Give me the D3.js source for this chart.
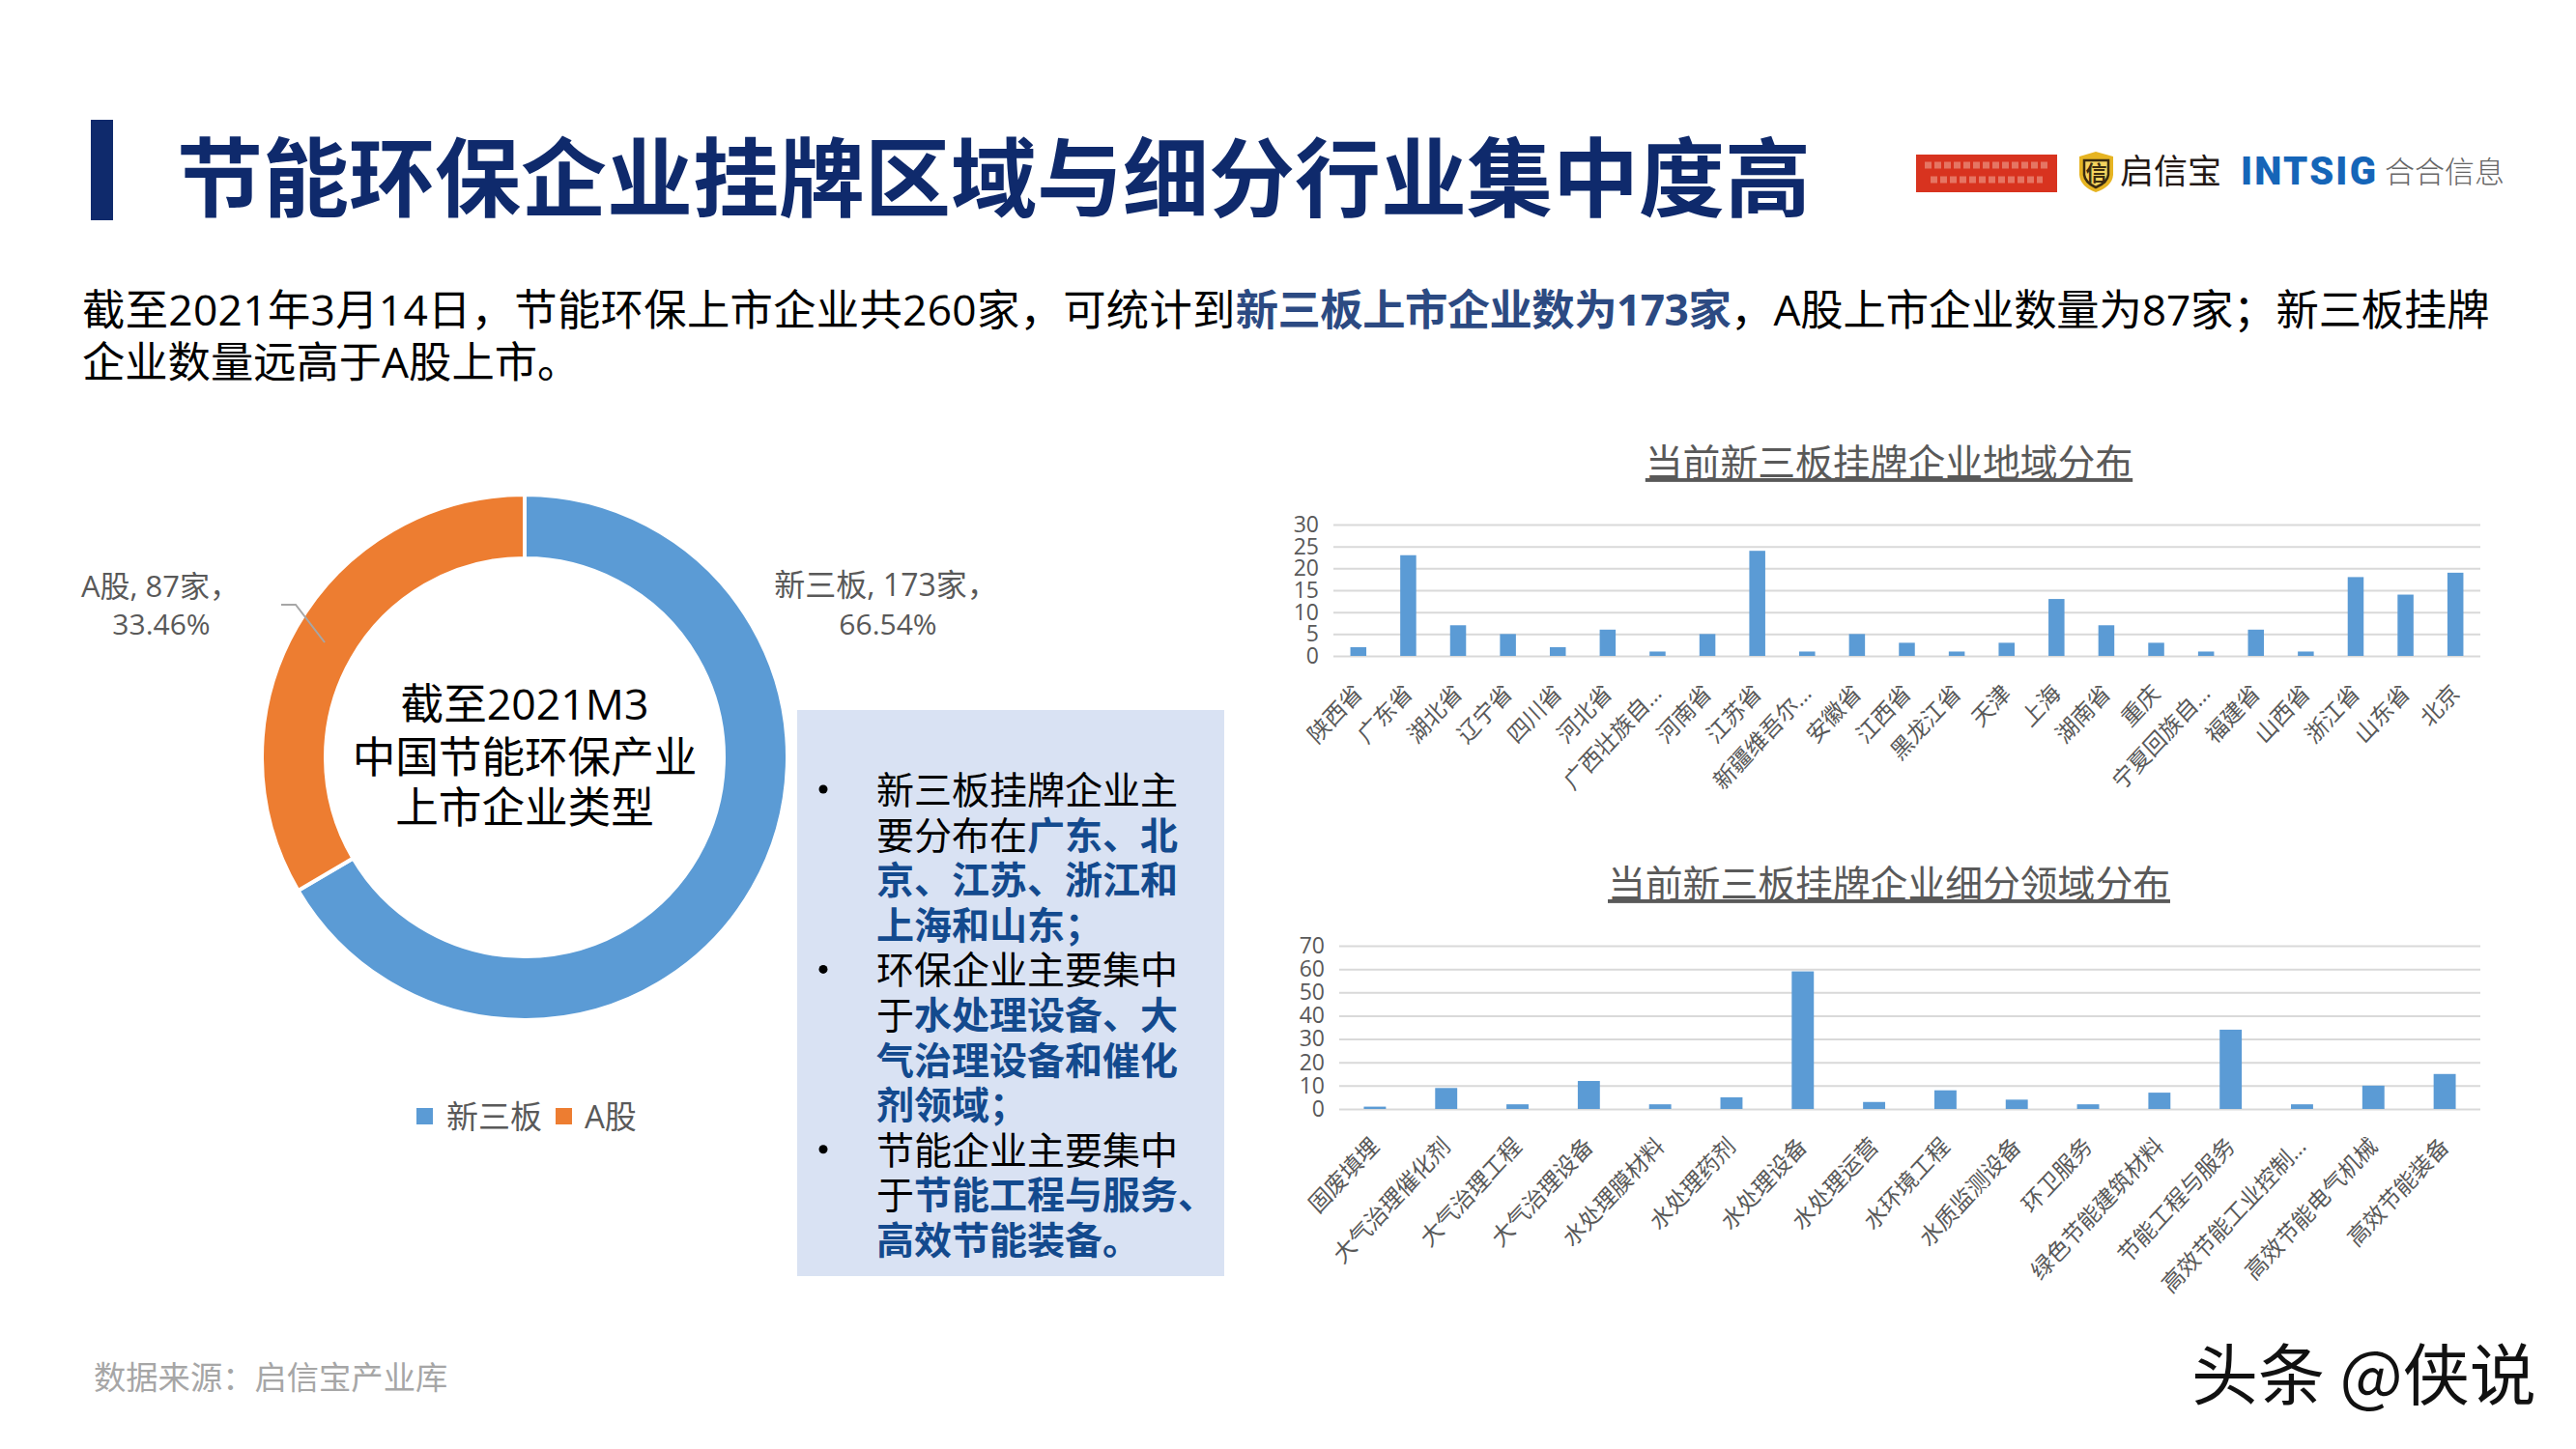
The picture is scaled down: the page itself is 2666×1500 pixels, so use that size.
<!DOCTYPE html>
<html>
<head>
<meta charset="utf-8">
<script src="https://cdn.jsdelivr.net/npm/d3@7"></script>
<style>
	html, body { margin: 0; padding: 0; background: #fff; }
	svg { display: block; }
	text { font-family: "Open Sans", "Noto Sans CJK SC", sans-serif; }
	.axis path { display: none; }
	.cjk { font-family: "Noto Sans CJK SC", sans-serif; }
</style>
</head>
<body>
<script>
// region chart
var regionNames = ['陕西省', '广东省', '湖北省', '辽宁省', '四川省', '河北省', '广西壮族自…', '河南省', '江苏省', '新疆维吾尔…', '安徽省', '江西省', '黑龙江省', '天津', '上海', '湖南省', '重庆', '宁夏回族自…', '福建省', '山西省', '浙江省', '山东省', '北京'];
var regionValues = [2, 23, 7, 5, 2, 6, 1, 5, 24, 1, 5, 3, 1, 3, 13, 7, 3, 1, 6, 1, 18, 14, 19];
var regionTicks = [0, 5, 10, 15, 20, 25, 30];

// segment chart
var fieldNames = ['固废填埋', '大气治理催化剂', '大气治理工程', '大气治理设备', '水处理膜材料', '水处理药剂', '水处理设备', '水处理运营', '水环境工程', '水质监测设备', '环卫服务', '绿色节能建筑材料', '节能工程与服务', '高效节能工业控制…', '高效节能电气机械', '高效节能装备'];
var fieldValues = [1, 9, 2, 12, 2, 5, 59, 3, 8, 4, 2, 7, 34, 2, 10, 15];
var fieldTicks = [0, 10, 20, 30, 40, 50, 60, 70];

// donut
var boardNames = ['新三板', 'A股'];
var boardValues = [173, 87];
var boardColors = ['#5B9BD5', '#ED7D31'];
var centerLines = ['截至2021M3', '中国节能环保产业', '上市企业类型'];

// text block, [text, bold] runs per line
var introLines = [
	[['截至2021年3月14日，节能环保上市企业共260家，可统计到', 0], ['新三板上市企业数为173家', 1], ['，A股上市企业数量为87家；新三板挂牌', 0]],
	[['企业数量远高于A股上市。', 0]]
];
var noteLines = [
	[['新三板挂牌企业主', 0]],
	[['要分布在', 0], ['广东、北', 1]],
	[['京、江苏、浙江和', 1]],
	[['上海和山东；', 1]],
	[['环保企业主要集中', 0]],
	[['于', 0], ['水处理设备、大', 1]],
	[['气治理设备和催化', 1]],
	[['剂领域；', 1]],
	[['节能企业主要集中', 0]],
	[['于', 0], ['节能工程与服务、', 1]],
	[['高效节能装备。', 1]]
];
var noteBullets = [0, 4, 8];

var width = 2666,
	height = 1500;

var svg = d3.select('body').append('svg')
	.attr('width', width)
	.attr('height', height);

function addRuns(sel, runs, boldColor) {
	runs.forEach(function(r) {
		sel.append('tspan')
			.attr('font-weight', r[1] ? 700 : 400)
			.attr('fill', r[1] ? boldColor : '#000')
			.text(r[0]);
	});
}

// header
svg.append('rect').attr('x', 94).attr('y', 124).attr('width', 23).attr('height', 104).attr('fill', '#0F2A6C');
svg.append('text').attr('class', 'cjk')
	.attr('x', 183).attr('y', 217)
	.attr('font-size', 89).attr('font-weight', 700).attr('fill', '#0F2A6C')
	.text('节能环保企业挂牌区域与细分行业集中度高');

// logos
svg.append('rect').attr('x', 1983).attr('y', 160).attr('width', 146).attr('height', 39).attr('fill', '#D8331F');
[168, 183].forEach(function(y, i) {
	svg.append('line')
		.attr('x1', 1992 + i * 6).attr('x2', 2120 - i * 6).attr('y1', y + 3).attr('y2', y + 3)
		.attr('stroke', '#F3B7A6').attr('stroke-width', 7).attr('stroke-dasharray', '7 3').attr('opacity', 0.5);
});

var shield = svg.append('g').attr('transform', 'translate(2152,157)');
shield.append('path').attr('d', 'M0 5 L17 0 L35 5 L35 24 Q34 36 17 42 Q1 36 0 24 Z').attr('fill', '#E6B422');
shield.append('path').attr('d', 'M5 9 L30 9 L30 24 Q29 32 17 37 Q6 32 5 24 Z').attr('fill', '#F4D35E').attr('stroke', '#3B2C10').attr('stroke-width', 2.5);
shield.append('text').attr('class', 'cjk').attr('x', 17.5).attr('y', 30).attr('text-anchor', 'middle')
	.attr('font-size', 22).attr('font-weight', 700).attr('fill', '#3B2C10').text('信');

svg.append('text').attr('class', 'cjk').attr('x', 2194).attr('y', 190)
	.attr('font-size', 35).attr('font-weight', 400).attr('fill', '#231815').text('启信宝');
svg.append('text').attr('x', 2319).attr('y', 191)
	.style('font-family', 'Roboto, sans-serif')
	.attr('font-size', 40).attr('font-weight', 900).attr('letter-spacing', 2.2).attr('fill', '#1565B8').text('INTSIG');
svg.append('text').attr('class', 'cjk').attr('x', 2468).attr('y', 189)
	.attr('font-size', 31).attr('font-weight', 300).attr('fill', '#666').text('合合信息');

// intro paragraph
var intro = svg.append('g').attr('class', 'intro');
introLines.forEach(function(runs, i) {
	var t = intro.append('text').attr('x', 85).attr('y', 337 + i * 54).attr('font-size', 44.3);
	addRuns(t, runs, '#2C4A82');
});
// nudge the three runs of line one so they start where the source does
var introSpacing = [0.33, -0.5, -0.12];
intro.select('text').selectAll('tspan').attr('letter-spacing', function(d, i) { return introSpacing[i]; });

// donut chart
var radius = 272;
var pie = d3.pie().sort(null).value(function(d) { return d; });
var arc = d3.arc().innerRadius(206).outerRadius(radius);
var donut = svg.append('g').attr('transform', 'translate(543,784)');

donut.selectAll('.slice')
	.data(pie(boardValues))
	.enter().append('path')
	.attr('class', 'slice')
	.attr('d', arc)
	.attr('fill', function(d, i) { return boardColors[i]; })
	.attr('stroke', '#fff')
	.attr('stroke-width', 4);

centerLines.forEach(function(line, i) {
	donut.append('text')
		.attr('y', [-39, 16, 68][i])
		.attr('text-anchor', 'middle')
		.attr('font-size', 44.6)
		.attr('fill', '#000')
		.text(line);
});

// donut labels
var labelColor = '#595959';
function boardLabel(x, y, text, size) {
	svg.append('text').attr('x', x).attr('y', y)
		.attr('text-anchor', 'middle').attr('font-size', size).attr('fill', labelColor).text(text);
}
boardLabel(166, 618, boardNames[1] + ', ' + boardValues[1] + '家，', 31);
boardLabel(167, 657, d3.format('.2f')(boardValues[1] / 260 * 100) + '%', 30);
boardLabel(917, 617, boardNames[0] + ', ' + boardValues[0] + '家，', 32);
boardLabel(919, 657, d3.format('.2f')(boardValues[0] / 260 * 100) + '%', 30);

svg.append('path')
	.attr('d', 'M291 626 L306 626 L336 665')
	.attr('fill', 'none').attr('stroke', '#A6A6A6').attr('stroke-width', 2);

// donut legend
var legendX = [431, 575], legendTextX = [462, 605];
boardNames.forEach(function(name, i) {
	svg.append('rect').attr('x', legendX[i]).attr('y', 1147).attr('width', 17).attr('height', 17).attr('fill', boardColors[i]);
	svg.append('text').attr('x', legendTextX[i]).attr('y', 1168).attr('font-size', 33).attr('fill', labelColor).text(name);
});

// note box
svg.append('rect').attr('x', 825).attr('y', 735).attr('width', 442).attr('height', 586).attr('fill', '#D9E2F3');
noteLines.forEach(function(runs, i) {
	var t = svg.append('text').attr('x', 907).attr('y', 832 + i * 46.6).attr('font-size', 39);
	addRuns(t, runs, '#134A8E');
});
noteBullets.forEach(function(i) {
	svg.append('circle').attr('cx', 852).attr('cy', 817 + i * 46.6).attr('r', 4.5).attr('fill', '#000');
});

// bar charts
function barChart(opt) {
	var x = d3.scaleBand().domain(opt.names).range([opt.left, opt.right]).paddingInner(opt.pad).paddingOuter(opt.pad / 2);
	var y = d3.scaleLinear().domain([0, d3.max(opt.ticks)]).range([opt.bottom, opt.top]);

	svg.append('text')
		.attr('x', 1955).attr('y', opt.titleY)
		.attr('text-anchor', 'middle')
		.attr('font-size', 38.8).attr('fill', labelColor)
		.attr('text-decoration', 'underline')
		.text(opt.title);

	var yAxis = d3.axisLeft(y).tickValues(opt.ticks).tickSize(-(opt.right - opt.left)).tickPadding(opt.labelGap);
	var gy = svg.append('g').attr('class', 'axis')
		.attr('transform', 'translate(' + opt.left + ',0)')
		.call(yAxis);
	gy.selectAll('line').attr('stroke', '#D9D9D9').attr('stroke-width', 2);
	gy.selectAll('text').attr('font-size', 23).attr('fill', labelColor)
		.style('font-family', '"Open Sans", sans-serif');

	svg.selectAll('.bar' + opt.id)
		.data(opt.values)
		.enter().append('rect')
		.attr('class', 'bar' + opt.id)
		.attr('x', function(d, i) { return x(opt.names[i]); })
		.attr('y', function(d) { return y(d); })
		.attr('width', x.bandwidth())
		.attr('height', function(d) { return opt.bottom - y(d); })
		.attr('fill', '#5B9BD5');

	var xAxis = d3.axisBottom(x).tickSize(0).tickPadding(0);
	var gx = svg.append('g').attr('class', 'axis')
		.attr('transform', 'translate(0,' + opt.bottom + ')')
		.call(xAxis);
	// the labels in the source are slightly squeezed sideways
	gx.selectAll('text')
		.attr('font-size', 25)
		.attr('fill', labelColor)
		.attr('text-anchor', 'end')
		.attr('dy', '0.35em')
		.attr('transform', 'translate(0,' + opt.labelDrop + ') scale(0.91,0.98) rotate(-45)');
}

barChart({
	id: 'region', title: '当前新三板挂牌企业地域分布', titleY: 493,
	names: regionNames, values: regionValues, ticks: regionTicks,
	left: 1380, right: 2567, top: 543, bottom: 679, pad: 0.68, labelGap: 15, labelDrop: 34
});

barChart({
	id: 'field', title: '当前新三板挂牌企业细分领域分布', titleY: 929,
	names: fieldNames, values: fieldValues, ticks: fieldTicks,
	left: 1386, right: 2567, top: 979, bottom: 1148, pad: 0.69, labelGap: 15, labelDrop: 34
});

// source and watermark
svg.append('text').attr('x', 97).attr('y', 1438).attr('font-size', 33.3).attr('fill', '#A6A6A6').text('数据来源：启信宝产业库');
svg.append('text').attr('class', 'cjk').attr('x', 2268).attr('y', 1449).attr('font-size', 69).attr('font-weight', 400).attr('fill', '#111').text('头条 @侠说');
</script>
</body>
</html>
